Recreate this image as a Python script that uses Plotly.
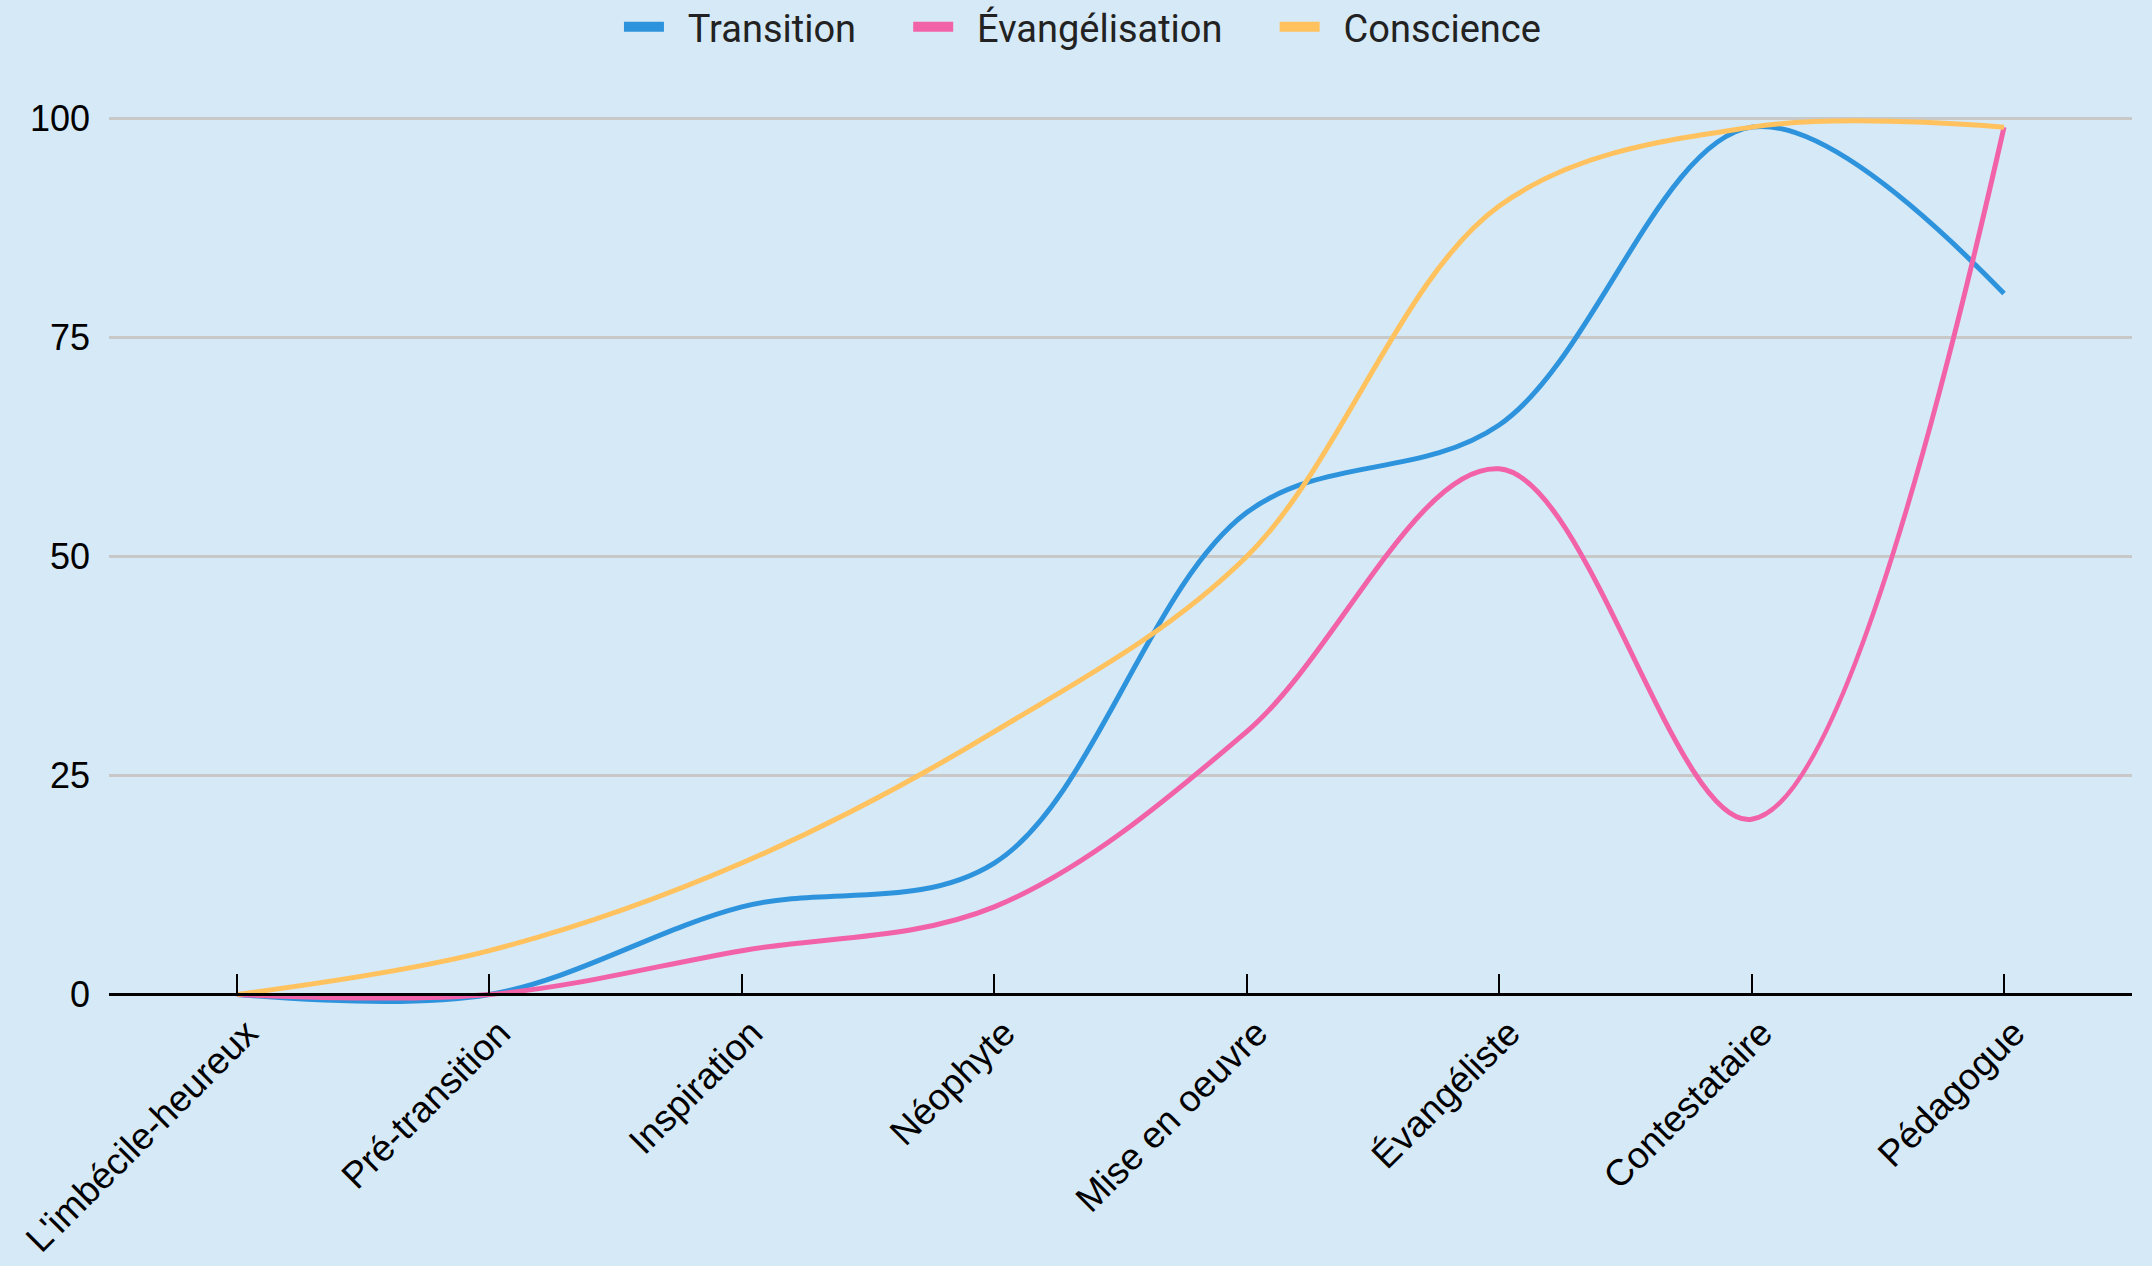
import plotly.graph_objects as go

categories = ["L'imbécile-heureux", "Pré-transition", "Inspiration", "Néophyte",
              "Mise en oeuvre", "Évangéliste", "Contestataire", "Pédagogue"]
transition = [0, 0, 10, 15, 55, 65, 99, 80]
evangelisation = [0, 0, 5, 10, 30, 60, 20, 99]
conscience = [0, 5, 15, 30, 50, 90, 99, 99]
series_names = ["Transition", "Évangélisation", "Conscience"]
series_values = [transition, evangelisation, conscience]
colors = ["#2E93DD", "#F262A9", "#FFC25E"]
y_ticks = [0, 25, 50, 75, 100]

BG = "#D6E9F6"
NB = "\u00a0"
fig = go.Figure()
xs = list(range(len(categories)))
for name, vals, col in zip(series_names, series_values, colors):
    fig.add_trace(go.Scatter(x=xs, y=vals, mode="lines", name=name,
                             line=dict(color=col, width=5, shape="spline"),
                             showlegend=False, hoverinfo="skip"))
for i, (name, col) in enumerate(zip(series_names, colors)):
    label = NB * 2 + name + (NB * 5 if i < len(series_names) - 1 else "")
    fig.add_trace(go.Scatter(x=[None], y=[None], mode="lines", name=label,
                             line=dict(color=col, width=10)))

ymin, ymax = -2, 100.5
fig.update_layout(
    width=2152, height=1266,
    paper_bgcolor=BG, plot_bgcolor=BG,
    margin=dict(l=109, r=20, t=114, b=254, autoexpand=False),
    showlegend=True,
    legend=dict(orientation="h", xref="container", yref="container",
                x=0.503, xanchor="center", y=1 - 27 / 1266, yanchor="middle",
                bgcolor="rgba(0,0,0,0)", itemwidth=40,
                font=dict(family="Roboto", size=38, color="#222222")),
    xaxis=dict(range=[-0.507, 7.507], tickmode="array", tickvals=xs, ticktext=categories,
               tickangle=-45, showgrid=False, zeroline=False, automargin=False,
               anchor="free", position=(0 - ymin) / (ymax - ymin),
               showline=True, linecolor="#000000", linewidth=3,
               ticks="inside", ticklen=19, tickwidth=2, tickcolor="#000000",
               ticklabeloverflow="allow", ticklabelshift=10,
               tickfont=dict(family="Liberation Sans", size=37, color="#000000")),
    yaxis=dict(range=[ymin, ymax], tickmode="array", tickvals=y_ticks, automargin=False,
               showgrid=True, gridcolor="#C8C8C8", gridwidth=2.5,
               zeroline=False, showline=False, ticks="", ticklabelstandoff=18,
               tickfont=dict(family="Liberation Sans", size=36, color="#000000")),
)
fig.write_html("out.html", config={"displayModeBar": False},
               post_script="document.body.style.margin='0';document.body.style.background='" + BG + "';")
